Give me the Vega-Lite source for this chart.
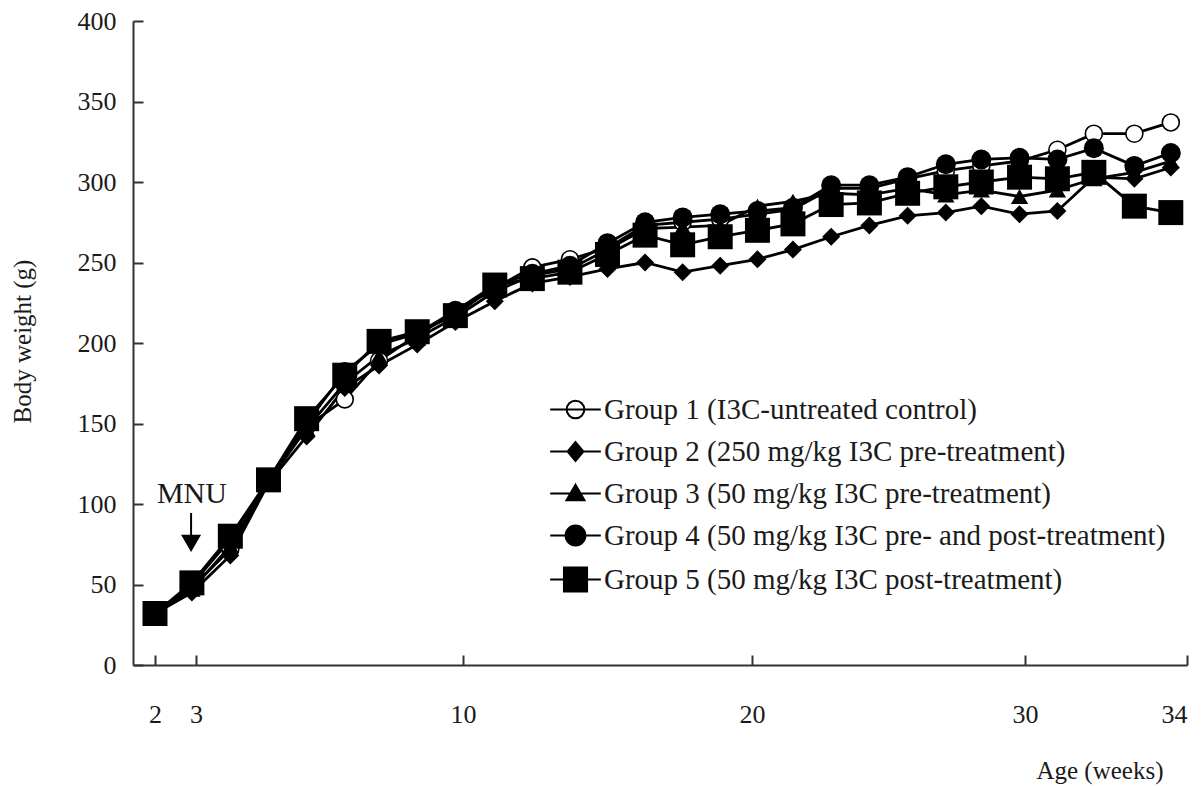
{
  "$schema": "https://vega.github.io/schema/vega-lite/v6.json",
  "width": 1054,
  "height": 644,
  "autosize": "none",
  "padding": {"left": 133, "top": 21, "right": 14, "bottom": 121},
  "background": "white",
  "config": {
    "view": {"stroke": null},
    "font": "Liberation Serif",
    "axis": {"grid": false, "domainColor": "#333", "domainWidth": 2, "tickColor": "#333", "tickWidth": 2, "labelFont": "Liberation Serif", "labelColor": "#1a1a1a", "labelFontSize": 26, "titleFont": "Liberation Serif", "titleFontWeight": "normal", "titleFontSize": 25, "titleColor": "#1a1a1a", "labelOverlap": false},
    "legend": {"orient": "none", "legendX": 428, "legendY": 374, "symbolSize": 484, "symbolStrokeColor": "black", "symbolStrokeWidth": 2, "symbolOpacity": 1, "labelFont": "Liberation Serif", "labelFontSize": 29, "labelColor": "#1a1a1a", "labelOffset": 14, "rowPadding": 12, "labelLimit": 1000, "padding": 0}
  },
  "data": {"values": [
    {"age": 2, "weight": 32, "group": "Group 1 (I3C-untreated control)"},
    {"age": 2.9, "weight": 48, "group": "Group 1 (I3C-untreated control)"},
    {"age": 3.9, "weight": 72, "group": "Group 1 (I3C-untreated control)"},
    {"age": 4.9, "weight": 114, "group": "Group 1 (I3C-untreated control)"},
    {"age": 5.9, "weight": 148, "group": "Group 1 (I3C-untreated control)"},
    {"age": 6.9, "weight": 165, "group": "Group 1 (I3C-untreated control)"},
    {"age": 7.8, "weight": 189, "group": "Group 1 (I3C-untreated control)"},
    {"age": 8.8, "weight": 205, "group": "Group 1 (I3C-untreated control)"},
    {"age": 9.8, "weight": 219, "group": "Group 1 (I3C-untreated control)"},
    {"age": 11.1, "weight": 234, "group": "Group 1 (I3C-untreated control)"},
    {"age": 12.4, "weight": 247, "group": "Group 1 (I3C-untreated control)"},
    {"age": 13.7, "weight": 252, "group": "Group 1 (I3C-untreated control)"},
    {"age": 15.0, "weight": 259, "group": "Group 1 (I3C-untreated control)"},
    {"age": 16.3, "weight": 273, "group": "Group 1 (I3C-untreated control)"},
    {"age": 17.6, "weight": 275, "group": "Group 1 (I3C-untreated control)"},
    {"age": 18.9, "weight": 277, "group": "Group 1 (I3C-untreated control)"},
    {"age": 20.2, "weight": 280, "group": "Group 1 (I3C-untreated control)"},
    {"age": 21.5, "weight": 283, "group": "Group 1 (I3C-untreated control)"},
    {"age": 22.9, "weight": 296, "group": "Group 1 (I3C-untreated control)"},
    {"age": 24.3, "weight": 296, "group": "Group 1 (I3C-untreated control)"},
    {"age": 25.7, "weight": 302, "group": "Group 1 (I3C-untreated control)"},
    {"age": 27.1, "weight": 307, "group": "Group 1 (I3C-untreated control)"},
    {"age": 28.4, "weight": 310, "group": "Group 1 (I3C-untreated control)"},
    {"age": 29.8, "weight": 313, "group": "Group 1 (I3C-untreated control)"},
    {"age": 30.8, "weight": 320, "group": "Group 1 (I3C-untreated control)"},
    {"age": 31.7, "weight": 330, "group": "Group 1 (I3C-untreated control)"},
    {"age": 32.7, "weight": 330, "group": "Group 1 (I3C-untreated control)"},
    {"age": 33.6, "weight": 337, "group": "Group 1 (I3C-untreated control)"},
    {"age": 2, "weight": 32, "group": "Group 2 (250 mg/kg I3C pre-treatment)"},
    {"age": 2.9, "weight": 45, "group": "Group 2 (250 mg/kg I3C pre-treatment)"},
    {"age": 3.9, "weight": 68, "group": "Group 2 (250 mg/kg I3C pre-treatment)"},
    {"age": 4.9, "weight": 113, "group": "Group 2 (250 mg/kg I3C pre-treatment)"},
    {"age": 5.9, "weight": 142, "group": "Group 2 (250 mg/kg I3C pre-treatment)"},
    {"age": 6.9, "weight": 172, "group": "Group 2 (250 mg/kg I3C pre-treatment)"},
    {"age": 7.8, "weight": 186, "group": "Group 2 (250 mg/kg I3C pre-treatment)"},
    {"age": 8.8, "weight": 199, "group": "Group 2 (250 mg/kg I3C pre-treatment)"},
    {"age": 9.8, "weight": 213, "group": "Group 2 (250 mg/kg I3C pre-treatment)"},
    {"age": 11.1, "weight": 226, "group": "Group 2 (250 mg/kg I3C pre-treatment)"},
    {"age": 12.4, "weight": 237, "group": "Group 2 (250 mg/kg I3C pre-treatment)"},
    {"age": 13.7, "weight": 241, "group": "Group 2 (250 mg/kg I3C pre-treatment)"},
    {"age": 15.0, "weight": 246, "group": "Group 2 (250 mg/kg I3C pre-treatment)"},
    {"age": 16.3, "weight": 250, "group": "Group 2 (250 mg/kg I3C pre-treatment)"},
    {"age": 17.6, "weight": 244, "group": "Group 2 (250 mg/kg I3C pre-treatment)"},
    {"age": 18.9, "weight": 248, "group": "Group 2 (250 mg/kg I3C pre-treatment)"},
    {"age": 20.2, "weight": 252, "group": "Group 2 (250 mg/kg I3C pre-treatment)"},
    {"age": 21.5, "weight": 258, "group": "Group 2 (250 mg/kg I3C pre-treatment)"},
    {"age": 22.9, "weight": 266, "group": "Group 2 (250 mg/kg I3C pre-treatment)"},
    {"age": 24.3, "weight": 273, "group": "Group 2 (250 mg/kg I3C pre-treatment)"},
    {"age": 25.7, "weight": 279, "group": "Group 2 (250 mg/kg I3C pre-treatment)"},
    {"age": 27.1, "weight": 281, "group": "Group 2 (250 mg/kg I3C pre-treatment)"},
    {"age": 28.4, "weight": 285, "group": "Group 2 (250 mg/kg I3C pre-treatment)"},
    {"age": 29.8, "weight": 280, "group": "Group 2 (250 mg/kg I3C pre-treatment)"},
    {"age": 30.8, "weight": 282, "group": "Group 2 (250 mg/kg I3C pre-treatment)"},
    {"age": 31.7, "weight": 303, "group": "Group 2 (250 mg/kg I3C pre-treatment)"},
    {"age": 32.7, "weight": 302, "group": "Group 2 (250 mg/kg I3C pre-treatment)"},
    {"age": 33.6, "weight": 309, "group": "Group 2 (250 mg/kg I3C pre-treatment)"},
    {"age": 2, "weight": 32, "group": "Group 3 (50 mg/kg I3C pre-treatment)"},
    {"age": 2.9, "weight": 47, "group": "Group 3 (50 mg/kg I3C pre-treatment)"},
    {"age": 3.9, "weight": 74, "group": "Group 3 (50 mg/kg I3C pre-treatment)"},
    {"age": 4.9, "weight": 114, "group": "Group 3 (50 mg/kg I3C pre-treatment)"},
    {"age": 5.9, "weight": 147, "group": "Group 3 (50 mg/kg I3C pre-treatment)"},
    {"age": 6.9, "weight": 175, "group": "Group 3 (50 mg/kg I3C pre-treatment)"},
    {"age": 7.8, "weight": 192, "group": "Group 3 (50 mg/kg I3C pre-treatment)"},
    {"age": 8.8, "weight": 203, "group": "Group 3 (50 mg/kg I3C pre-treatment)"},
    {"age": 9.8, "weight": 216, "group": "Group 3 (50 mg/kg I3C pre-treatment)"},
    {"age": 11.1, "weight": 232, "group": "Group 3 (50 mg/kg I3C pre-treatment)"},
    {"age": 12.4, "weight": 242, "group": "Group 3 (50 mg/kg I3C pre-treatment)"},
    {"age": 13.7, "weight": 246, "group": "Group 3 (50 mg/kg I3C pre-treatment)"},
    {"age": 15.0, "weight": 258, "group": "Group 3 (50 mg/kg I3C pre-treatment)"},
    {"age": 16.3, "weight": 271, "group": "Group 3 (50 mg/kg I3C pre-treatment)"},
    {"age": 17.6, "weight": 272, "group": "Group 3 (50 mg/kg I3C pre-treatment)"},
    {"age": 18.9, "weight": 273, "group": "Group 3 (50 mg/kg I3C pre-treatment)"},
    {"age": 20.2, "weight": 285, "group": "Group 3 (50 mg/kg I3C pre-treatment)"},
    {"age": 21.5, "weight": 288, "group": "Group 3 (50 mg/kg I3C pre-treatment)"},
    {"age": 22.9, "weight": 293, "group": "Group 3 (50 mg/kg I3C pre-treatment)"},
    {"age": 24.3, "weight": 292, "group": "Group 3 (50 mg/kg I3C pre-treatment)"},
    {"age": 25.7, "weight": 296, "group": "Group 3 (50 mg/kg I3C pre-treatment)"},
    {"age": 27.1, "weight": 292, "group": "Group 3 (50 mg/kg I3C pre-treatment)"},
    {"age": 28.4, "weight": 295, "group": "Group 3 (50 mg/kg I3C pre-treatment)"},
    {"age": 29.8, "weight": 291, "group": "Group 3 (50 mg/kg I3C pre-treatment)"},
    {"age": 30.8, "weight": 295, "group": "Group 3 (50 mg/kg I3C pre-treatment)"},
    {"age": 31.7, "weight": 302, "group": "Group 3 (50 mg/kg I3C pre-treatment)"},
    {"age": 32.7, "weight": 306, "group": "Group 3 (50 mg/kg I3C pre-treatment)"},
    {"age": 33.6, "weight": 313, "group": "Group 3 (50 mg/kg I3C pre-treatment)"},
    {"age": 2, "weight": 32, "group": "Group 4 (50 mg/kg I3C pre- and post-treatment)"},
    {"age": 2.9, "weight": 50, "group": "Group 4 (50 mg/kg I3C pre- and post-treatment)"},
    {"age": 3.9, "weight": 78, "group": "Group 4 (50 mg/kg I3C pre- and post-treatment)"},
    {"age": 4.9, "weight": 115, "group": "Group 4 (50 mg/kg I3C pre- and post-treatment)"},
    {"age": 5.9, "weight": 150, "group": "Group 4 (50 mg/kg I3C pre- and post-treatment)"},
    {"age": 6.9, "weight": 182, "group": "Group 4 (50 mg/kg I3C pre- and post-treatment)"},
    {"age": 7.8, "weight": 199, "group": "Group 4 (50 mg/kg I3C pre- and post-treatment)"},
    {"age": 8.8, "weight": 206, "group": "Group 4 (50 mg/kg I3C pre- and post-treatment)"},
    {"age": 9.8, "weight": 220, "group": "Group 4 (50 mg/kg I3C pre- and post-treatment)"},
    {"age": 11.1, "weight": 236, "group": "Group 4 (50 mg/kg I3C pre- and post-treatment)"},
    {"age": 12.4, "weight": 243, "group": "Group 4 (50 mg/kg I3C pre- and post-treatment)"},
    {"age": 13.7, "weight": 248, "group": "Group 4 (50 mg/kg I3C pre- and post-treatment)"},
    {"age": 15.0, "weight": 262, "group": "Group 4 (50 mg/kg I3C pre- and post-treatment)"},
    {"age": 16.3, "weight": 275, "group": "Group 4 (50 mg/kg I3C pre- and post-treatment)"},
    {"age": 17.6, "weight": 278, "group": "Group 4 (50 mg/kg I3C pre- and post-treatment)"},
    {"age": 18.9, "weight": 280, "group": "Group 4 (50 mg/kg I3C pre- and post-treatment)"},
    {"age": 20.2, "weight": 282, "group": "Group 4 (50 mg/kg I3C pre- and post-treatment)"},
    {"age": 21.5, "weight": 284, "group": "Group 4 (50 mg/kg I3C pre- and post-treatment)"},
    {"age": 22.9, "weight": 298, "group": "Group 4 (50 mg/kg I3C pre- and post-treatment)"},
    {"age": 24.3, "weight": 298, "group": "Group 4 (50 mg/kg I3C pre- and post-treatment)"},
    {"age": 25.7, "weight": 303, "group": "Group 4 (50 mg/kg I3C pre- and post-treatment)"},
    {"age": 27.1, "weight": 311, "group": "Group 4 (50 mg/kg I3C pre- and post-treatment)"},
    {"age": 28.4, "weight": 314, "group": "Group 4 (50 mg/kg I3C pre- and post-treatment)"},
    {"age": 29.8, "weight": 315, "group": "Group 4 (50 mg/kg I3C pre- and post-treatment)"},
    {"age": 30.8, "weight": 314, "group": "Group 4 (50 mg/kg I3C pre- and post-treatment)"},
    {"age": 31.7, "weight": 321, "group": "Group 4 (50 mg/kg I3C pre- and post-treatment)"},
    {"age": 32.7, "weight": 310, "group": "Group 4 (50 mg/kg I3C pre- and post-treatment)"},
    {"age": 33.6, "weight": 318, "group": "Group 4 (50 mg/kg I3C pre- and post-treatment)"},
    {"age": 2, "weight": 32, "group": "Group 5 (50 mg/kg I3C post-treatment)"},
    {"age": 2.9, "weight": 51, "group": "Group 5 (50 mg/kg I3C post-treatment)"},
    {"age": 3.9, "weight": 80, "group": "Group 5 (50 mg/kg I3C post-treatment)"},
    {"age": 4.9, "weight": 115, "group": "Group 5 (50 mg/kg I3C post-treatment)"},
    {"age": 5.9, "weight": 153, "group": "Group 5 (50 mg/kg I3C post-treatment)"},
    {"age": 6.9, "weight": 180, "group": "Group 5 (50 mg/kg I3C post-treatment)"},
    {"age": 7.8, "weight": 201, "group": "Group 5 (50 mg/kg I3C post-treatment)"},
    {"age": 8.8, "weight": 207, "group": "Group 5 (50 mg/kg I3C post-treatment)"},
    {"age": 9.8, "weight": 217, "group": "Group 5 (50 mg/kg I3C post-treatment)"},
    {"age": 11.1, "weight": 236, "group": "Group 5 (50 mg/kg I3C post-treatment)"},
    {"age": 12.4, "weight": 240, "group": "Group 5 (50 mg/kg I3C post-treatment)"},
    {"age": 13.7, "weight": 244, "group": "Group 5 (50 mg/kg I3C post-treatment)"},
    {"age": 15.0, "weight": 255, "group": "Group 5 (50 mg/kg I3C post-treatment)"},
    {"age": 16.3, "weight": 267, "group": "Group 5 (50 mg/kg I3C post-treatment)"},
    {"age": 17.6, "weight": 261, "group": "Group 5 (50 mg/kg I3C post-treatment)"},
    {"age": 18.9, "weight": 266, "group": "Group 5 (50 mg/kg I3C post-treatment)"},
    {"age": 20.2, "weight": 270, "group": "Group 5 (50 mg/kg I3C post-treatment)"},
    {"age": 21.5, "weight": 274, "group": "Group 5 (50 mg/kg I3C post-treatment)"},
    {"age": 22.9, "weight": 286, "group": "Group 5 (50 mg/kg I3C post-treatment)"},
    {"age": 24.3, "weight": 287, "group": "Group 5 (50 mg/kg I3C post-treatment)"},
    {"age": 25.7, "weight": 293, "group": "Group 5 (50 mg/kg I3C post-treatment)"},
    {"age": 27.1, "weight": 297, "group": "Group 5 (50 mg/kg I3C post-treatment)"},
    {"age": 28.4, "weight": 300, "group": "Group 5 (50 mg/kg I3C post-treatment)"},
    {"age": 29.8, "weight": 303, "group": "Group 5 (50 mg/kg I3C post-treatment)"},
    {"age": 30.8, "weight": 302, "group": "Group 5 (50 mg/kg I3C post-treatment)"},
    {"age": 31.7, "weight": 306, "group": "Group 5 (50 mg/kg I3C post-treatment)"},
    {"age": 32.7, "weight": 285, "group": "Group 5 (50 mg/kg I3C post-treatment)"},
    {"age": 33.6, "weight": 281, "group": "Group 5 (50 mg/kg I3C post-treatment)"}
  ]},
  "encoding": {
    "x": {"field": "age", "type": "quantitative",
      "scale": {"domain": [1.46, 2, 3, 10, 20, 30, 34], "range": [0, 22, 63, 330, 619, 892, 1054], "zero": false, "nice": false},
      "axis": {"values": [2, 3, 10, 20, 30, 34], "tickSize": -10, "labelPadding": 46, "labelFlush": true, "title": "Age (weeks)", "titleX": 1030, "titleY": 113, "titleAlign": "right", "titleBaseline": "alphabetic"}},
    "y": {"field": "weight", "type": "quantitative",
      "scale": {"domain": [0, 400], "zero": true, "nice": false},
      "axis": {"values": [0, 50, 100, 150, 200, 250, 300, 350, 400], "tickSize": -10, "labelPadding": 27, "title": "Body weight (g)", "titleX": -103, "titleY": 320, "titleAlign": "center", "titleBaseline": "alphabetic", "titleAngle": -90}}
  },
  "layer": [
    {"mark": {"type": "line", "color": "black", "strokeWidth": 2.8},
     "encoding": {"detail": {"field": "group", "type": "nominal"}}},
    {"transform": [{"filter": {"field": "group", "equal": "Group 1 (I3C-untreated control)"}}],
     "mark": {"type": "point", "shape": "circle", "size": 289, "filled": false, "fill": "white", "stroke": "black", "strokeWidth": 1.6, "opacity": 1}},
    {"transform": [{"filter": {"field": "group", "equal": "Group 2 (250 mg/kg I3C pre-treatment)"}}],
     "mark": {"type": "point", "shape": "diamond", "size": 324, "filled": true, "color": "black", "opacity": 1}},
    {"transform": [{"filter": {"field": "group", "equal": "Group 3 (50 mg/kg I3C pre-treatment)"}}],
     "mark": {"type": "point", "shape": "triangle-up", "size": 300, "filled": true, "color": "black", "opacity": 1}},
    {"transform": [{"filter": {"field": "group", "equal": "Group 4 (50 mg/kg I3C pre- and post-treatment)"}}],
     "mark": {"type": "point", "shape": "circle", "size": 400, "filled": true, "color": "black", "opacity": 1}},
    {"transform": [{"filter": {"field": "group", "equal": "Group 5 (50 mg/kg I3C post-treatment)"}}],
     "mark": {"type": "point", "shape": "square", "size": 625, "filled": true, "color": "black", "opacity": 1}},
    {"mark": {"type": "point", "filled": true, "opacity": 0, "stroke": "black", "strokeWidth": 2},
     "encoding": {
       "shape": {"field": "group", "type": "nominal", "scale": {"range": [
         "M-2.3,0H2.3M0.8,0A0.8,0.8 0 1,1 -0.8,0A0.8,0.8 0 1,1 0.8,0Z",
         "M-2.3,0H2.3M0,-0.85L0.72,0L0,0.85L-0.72,0Z",
         "M-2.3,0H2.3M0,-0.8L0.82,0.62L-0.82,0.62Z",
         "M-2.3,0H2.3M0.9,0A0.9,0.9 0 1,1 -0.9,0A0.9,0.9 0 1,1 0.9,0Z",
         "M-2.3,0H2.3M-1.05,-1.1H1.05V1.1H-1.05Z"
       ]}, "legend": {"title": null, "encode": {"symbols": {"update": {"stroke": {"value": "black"}, "strokeWidth": {"value": 2}, "strokeOpacity": {"value": 1}}}}}},
       "fill": {"field": "group", "type": "nominal", "scale": {"range": ["white", "black", "black", "black", "black"]}, "legend": {"title": null, "encode": {"symbols": {"update": {"stroke": {"value": "black"}, "strokeWidth": {"value": 2}, "strokeOpacity": {"value": 1}}}}}}
     }},
    {"data": {"values": [{"age": 2.9, "weight": 100.6, "label": "MNU"}]},
     "mark": {"type": "text", "font": "Liberation Serif", "fontSize": 30, "align": "center", "baseline": "alphabetic", "color": "#1a1a1a"},
     "encoding": {"text": {"field": "label"}}},
    {"data": {"values": [{"age": 2.88, "weight": 94.4, "weight2": 77}]},
     "mark": {"type": "rule", "color": "black", "strokeWidth": 2},
     "encoding": {"y2": {"field": "weight2"}}},
    {"data": {"values": [{"age": 2.88, "weight": 75.5}]},
     "mark": {"type": "point", "shape": "triangle-down", "size": 400, "filled": true, "color": "black", "opacity": 1}}
  ]
}
